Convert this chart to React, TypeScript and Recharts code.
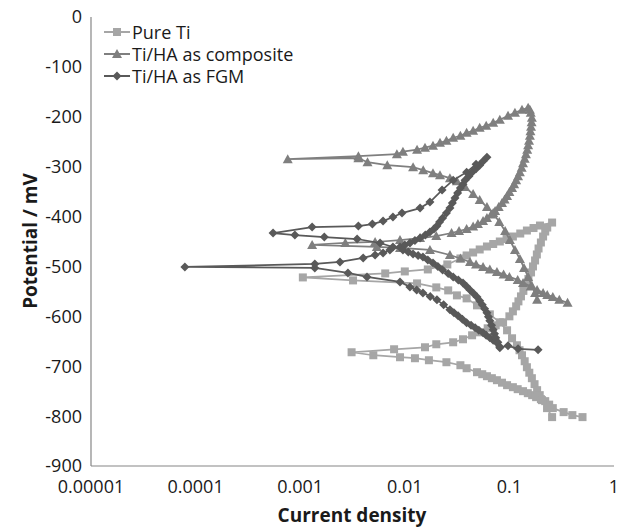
import { ScatterChart, Scatter, XAxis, YAxis } from "recharts";

const X_TICKS = [0.00001, 0.0001, 0.001, 0.01, 0.1, 1];
const X_TICK_LABELS = ["0.00001", "0.0001", "0.001", "0.01", "0.1", "1"];
const Y_TICKS = [0, -100, -200, -300, -400, -500, -600, -700, -800, -900];

// Pure Ti: cathodic start -> Ecorr -> anodic -> reverse -> reverse cathodic
const pureTiCurrent = [
  0.5, 0.4, 0.33, 0.26, 0.24, 0.22, 0.2, 0.18, 0.165, 0.15, 0.135, 0.12, 0.108,
  0.095, 0.085, 0.076, 0.068, 0.061, 0.055, 0.049, 0.039, 0.034, 0.025, 0.017,
  0.0125, 0.009, 0.005, 0.0031,
  0.0079, 0.0156, 0.02, 0.029, 0.036, 0.044, 0.052, 0.062, 0.074, 0.087, 0.1,
  0.108, 0.116, 0.122, 0.129, 0.136, 0.144, 0.152, 0.161, 0.168, 0.176, 0.183,
  0.19, 0.2, 0.21, 0.22, 0.23, 0.256,
  0.196, 0.17, 0.147, 0.127, 0.108, 0.094, 0.081, 0.07, 0.061, 0.052, 0.045,
  0.039, 0.034, 0.0255, 0.0166, 0.01, 0.0065, 0.00106,
  0.0032, 0.0131, 0.02, 0.026, 0.0315, 0.039, 0.049, 0.065, 0.081, 0.095, 0.106,
  0.118, 0.125, 0.132, 0.14, 0.147, 0.155, 0.164, 0.174, 0.184, 0.195, 0.205,
  0.229, 0.256,
];
const pureTiPotential = [
  -802, -798, -792, -784, -777, -770, -766, -762, -758, -754, -750, -746, -742,
  -738, -733, -728, -724, -720, -716, -712, -704, -698, -692, -688,
  -684, -682, -678, -672,
  -666, -662, -656, -652, -646, -638, -632, -624, -618, -612, -600,
  -590, -580, -570, -560, -549, -538, -525, -512, -500, -488, -476,
  -464, -452, -440, -430, -422, -412,
  -418, -423, -428, -434, -440, -445, -450, -455, -460, -466, -472,
  -478, -484, -496, -506, -510, -514, -522,
  -528, -534, -542, -548, -558, -564, -578, -596, -612, -628, -644,
  -658, -668, -678, -690, -702, -713, -724, -736, -748, -758, -768,
  -784, -802,
];

// Ti/HA as composite
const compositeCurrent = [
  0.36, 0.3, 0.26, 0.23, 0.21, 0.184, 0.16, 0.135, 0.12, 0.1, 0.088, 0.076,
  0.065, 0.056, 0.048, 0.042, 0.034, 0.027, 0.0174, 0.009, 0.0054, 0.0013,
  0.0027, 0.0052, 0.009, 0.014, 0.02, 0.028, 0.033, 0.039, 0.045, 0.05, 0.056,
  0.061, 0.067, 0.073, 0.079, 0.085, 0.09, 0.095, 0.1, 0.106, 0.111, 0.116,
  0.121, 0.126, 0.131, 0.135, 0.14, 0.144, 0.148, 0.151, 0.154, 0.157, 0.159,
  0.161, 0.163, 0.164, 0.16, 0.157, 0.151,
  0.132, 0.113, 0.097, 0.081, 0.07, 0.06, 0.052, 0.045, 0.039, 0.034, 0.029,
  0.025, 0.0217, 0.0186, 0.0156, 0.0131, 0.0096, 0.0084, 0.0036, 0.00076,
  0.0036, 0.0044, 0.0068, 0.012, 0.015, 0.0186, 0.0217, 0.027, 0.0315, 0.0377,
  0.045, 0.052, 0.061, 0.07, 0.08, 0.091, 0.101, 0.113, 0.126, 0.138, 0.151,
  0.164, 0.176, 0.184,
];
const compositePotential = [
  -573, -567, -561, -557, -553, -547, -540, -533, -527, -521, -516, -511,
  -506, -501, -496, -491, -484, -477, -467, -463, -461, -457,
  -453, -451, -447, -443, -439, -433, -429, -425, -420, -415, -409,
  -403, -396, -389, -381, -373, -366, -359, -351, -343, -335, -327,
  -319, -311, -302, -293, -284, -275, -266, -257, -248, -238, -229,
  -220, -211, -202, -192, -186, -182,
  -186, -192, -198, -206, -212, -218, -222, -228, -232, -238, -242,
  -248, -252, -258, -262, -266, -270, -275, -279, -285,
  -283, -291, -297, -301, -307, -313, -317, -323, -329, -341,
  -355, -367, -381, -393, -411, -429, -447, -467, -485, -503, -521,
  -539, -553, -567,
];

// Ti/HA as FGM
const fgmCurrent = [
  0.188, 0.121, 0.097, 0.081, 0.076, 0.07, 0.065, 0.06, 0.056, 0.051, 0.047,
  0.043, 0.039, 0.0355, 0.0323, 0.0295, 0.027, 0.0235, 0.0203, 0.0175, 0.0149,
  0.013, 0.0112, 0.009, 0.00435, 0.00286, 0.00138, 0.000079,
  0.00138, 0.0024, 0.004, 0.0052, 0.0062, 0.0072, 0.009, 0.01, 0.0112, 0.0125,
  0.014, 0.0157, 0.0174, 0.019, 0.0203, 0.0215, 0.023, 0.025, 0.027, 0.0285,
  0.0302, 0.032, 0.034, 0.036, 0.0377, 0.041, 0.044, 0.048, 0.052, 0.056, 0.061,
  0.048, 0.039, 0.029, 0.0227, 0.0174, 0.014, 0.0094, 0.0077, 0.0062, 0.0049,
  0.0036, 0.0013, 0.00055,
  0.00089, 0.0017, 0.0035, 0.0058, 0.0077, 0.0096, 0.0108, 0.012, 0.0134,
  0.0149, 0.0166, 0.0186, 0.0207, 0.023, 0.026, 0.029, 0.0325, 0.036, 0.039,
  0.042, 0.0455, 0.049, 0.052, 0.055, 0.058, 0.061, 0.063, 0.065, 0.0675, 0.07,
  0.072, 0.074, 0.0775, 0.081,
];
const fgmPotential = [
  -667, -665, -659, -663, -653, -648, -643, -638, -633, -628, -623,
  -618, -613, -606, -599, -593, -587, -577, -567, -560, -553,
  -547, -541, -531, -521, -513, -503, -501,
  -495, -491, -483, -477, -473, -467, -461, -457, -453, -448,
  -443, -437, -431, -425, -419, -411, -403, -393, -383, -373,
  -363, -353, -343, -335, -327, -319, -311, -304, -297, -289, -281,
  -295, -311, -327, -347, -371, -383, -393, -401, -409, -415,
  -419, -421, -433,
  -437, -441, -445, -453, -461, -467, -471, -475, -478,
  -481, -487, -493, -500, -507, -514, -521, -527, -533, -540,
  -547, -554, -561, -569, -577, -585, -593, -601, -609, -618, -627,
  -635, -643, -652, -661,
];

const PURE_COLOR = "#a6a6a6";
const COMP_COLOR = "#7f7f7f";
const FGM_COLOR = "#595959";
const FONT = '"Open Sans", sans-serif';
const TEXT = "#1a1a1a";

const toPoints = (xs: number[], ys: number[]) =>
  xs.map((x, i) => ({ x, y: ys[i] }));

const pureTi = toPoints(pureTiCurrent, pureTiPotential);
const composite = toPoints(compositeCurrent, compositePotential);
const fgm = toPoints(fgmCurrent, fgmPotential);

const squareShape = (p: any) => (
  <rect x={p.cx - 4} y={p.cy - 4} width={8} height={8} fill={PURE_COLOR} />
);
const triangleShape = (p: any) => (
  <polygon
    points={`${p.cx},${p.cy - 5} ${p.cx + 5},${p.cy + 4} ${p.cx - 5},${p.cy + 4}`}
    fill={COMP_COLOR}
  />
);
const diamondShape = (p: any) => (
  <polygon
    points={`${p.cx},${p.cy - 4.5} ${p.cx + 4.5},${p.cy} ${p.cx},${p.cy + 4.5} ${p.cx - 4.5},${p.cy}`}
    fill={FGM_COLOR}
  />
);

const legendItems = [
  { name: "Pure Ti", color: PURE_COLOR, kind: "square" },
  { name: "Ti/HA as composite", color: COMP_COLOR, kind: "triangle" },
  { name: "Ti/HA as FGM", color: FGM_COLOR, kind: "diamond" },
];

function LegendIcon({ color, kind }: { color: string; kind: string }) {
  return (
    <svg width={26} height={14} style={{ display: "block" }}>
      <line x1={0} y1={7} x2={26} y2={7} stroke={color} strokeWidth={2} />
      {kind === "square" && <rect x={9} y={3} width={8} height={8} fill={color} />}
      {kind === "triangle" && <polygon points="13,2 18,11 8,11" fill={color} />}
      {kind === "diamond" && <polygon points="13,2.5 17.5,7 13,11.5 8.5,7" fill={color} />}
    </svg>
  );
}

export default function App() {
  return (
    <div
      style={{
        position: "absolute",
        left: 0,
        top: 0,
        width: 629,
        height: 528,
        background: "#ffffff",
        fontFamily: FONT,
      }}
    >
      <ScatterChart
        width={629}
        height={528}
        margin={{ top: 17, right: 15, left: 0, bottom: 0 }}
      >
        <XAxis
          type="number"
          dataKey="x"
          scale="log"
          domain={[0.00001, 1]}
          ticks={X_TICKS}
          interval={0}
          allowDataOverflow
          height={62}
          tickLine={false}
          tickMargin={8}
          axisLine={{ stroke: "#868686", strokeWidth: 1.2 }}
          tick={{ fill: TEXT, fontSize: 18, fontFamily: FONT }}
          tickFormatter={(v: number) => X_TICK_LABELS[X_TICKS.indexOf(v)] ?? String(v)}
        />
        <YAxis
          type="number"
          dataKey="y"
          domain={[-900, 0]}
          ticks={Y_TICKS}
          interval={0}
          width={91}
          tickLine={false}
          tickMargin={3}
          axisLine={{ stroke: "#868686", strokeWidth: 1.2 }}
          tick={{ fill: TEXT, fontSize: 18, fontFamily: FONT }}
        />
        <Scatter
          name="Pure Ti"
          data={pureTi}
          fill={PURE_COLOR}
          line={{ stroke: PURE_COLOR, strokeWidth: 1.75 }}
          lineType="joint"
          shape={squareShape}
          isAnimationActive={false}
        />
        <Scatter
          name="Ti/HA as composite"
          data={composite}
          fill={COMP_COLOR}
          line={{ stroke: COMP_COLOR, strokeWidth: 1.75 }}
          lineType="joint"
          shape={triangleShape}
          isAnimationActive={false}
        />
        <Scatter
          name="Ti/HA as FGM"
          data={fgm}
          fill={FGM_COLOR}
          line={{ stroke: FGM_COLOR, strokeWidth: 1.75 }}
          lineType="joint"
          shape={diamondShape}
          isAnimationActive={false}
        />
      </ScatterChart>

      <div style={{ position: "absolute", left: 104, top: 21 }}>
        {legendItems.map((it) => (
          <div
            key={it.name}
            style={{ display: "flex", alignItems: "center", height: 22 }}
          >
            <LegendIcon color={it.color} kind={it.kind} />
            <span style={{ fontSize: 18, color: TEXT, marginLeft: 2, lineHeight: "22px" }}>
              {it.name}
            </span>
          </div>
        ))}
      </div>

      <div
        style={{
          position: "absolute",
          left: 30,
          top: 241,
          transform: "translate(-50%, -50%) rotate(-90deg)",
          whiteSpace: "nowrap",
          fontSize: 19,
          fontWeight: 700,
          color: TEXT,
        }}
      >
        Potential / mV
      </div>
      <div
        style={{
          position: "absolute",
          left: 352,
          top: 515,
          transform: "translate(-50%, -50%)",
          whiteSpace: "nowrap",
          fontSize: 19,
          fontWeight: 700,
          color: TEXT,
        }}
      >
        Current density
      </div>
    </div>
  );
}
